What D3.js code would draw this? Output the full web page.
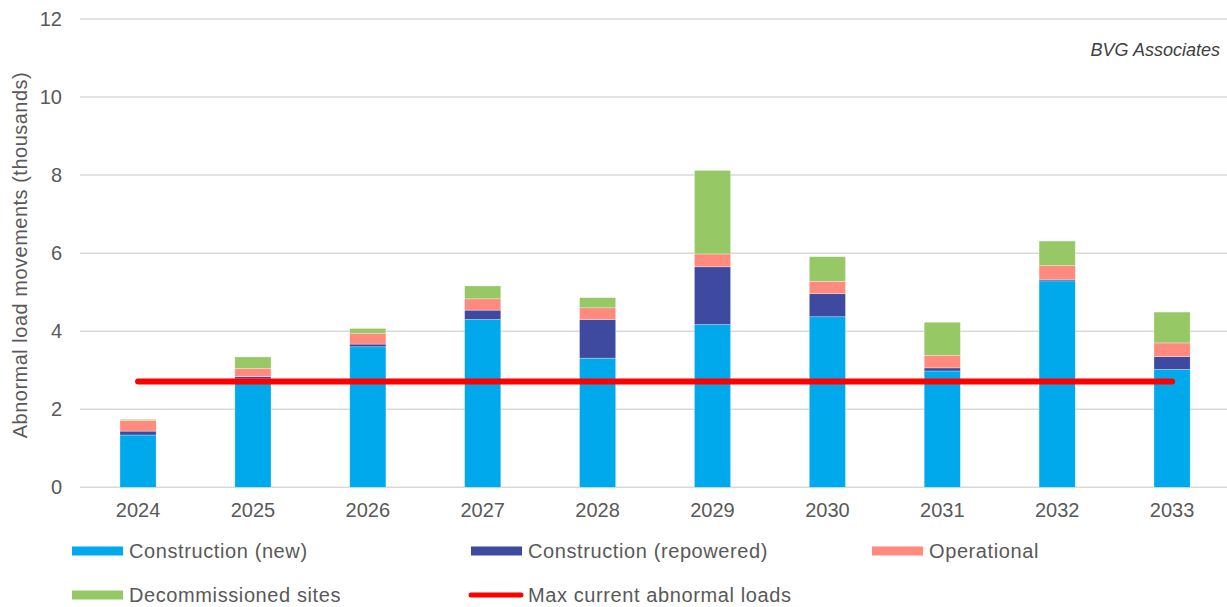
<!DOCTYPE html>
<html>
<head>
<meta charset="utf-8">
<script src="https://cdn.jsdelivr.net/npm/d3@7"></script>
<style>
  html, body { margin: 0; padding: 0; background: #fff; }
  svg { display: block; font-family: "Liberation Sans", Arial, sans-serif; }
</style>
</head>
<body>
<svg id="chart" width="1227" height="607"></svg>
<script>
// ---- data ----
const years = ["2024","2025","2026","2027","2028","2029","2030","2031","2032","2033"];
const constructionNew =        [1.34, 2.78, 3.60, 4.30, 3.31, 4.17, 4.37, 2.98, 5.29, 3.02];
const constructionRepowered =  [0.10, 0.06, 0.07, 0.24, 0.99, 1.48, 0.59, 0.08, 0.04, 0.33];
const operational =            [0.27, 0.21, 0.28, 0.29, 0.30, 0.33, 0.32, 0.32, 0.35, 0.35];
const decommissioned =         [0.03, 0.29, 0.12, 0.33, 0.26, 2.14, 0.63, 0.85, 0.63, 0.79];
const maxCurrent = [2.71, 2.71, 2.71, 2.71, 2.71, 2.71, 2.71, 2.71, 2.71, 2.71];
const yTicks = [0, 2, 4, 6, 8, 10, 12];
const seriesNames = ["Construction (new)", "Construction (repowered)", "Operational", "Decommissioned sites"];
const lineName = "Max current abnormal loads";

const colors = ["#00A9EC", "#3D4A9F", "#FF8A7D", "#97C866"];
const lineColor = "#FF0000";

const svg = d3.select("#chart");
const plotBottom = 487.3;

const x = d3.scaleBand().domain(years).range([80.6, 1229.5]).paddingInner(0.685).paddingOuter(0.3425);
const y = d3.scaleLinear().domain([0, 12]).range([plotBottom, 19]);

// gridlines
svg.append("g").selectAll("line").data(yTicks).join("line")
  .attr("x1", 80).attr("x2", 1227)
  .attr("y1", d => y(d)).attr("y2", d => y(d))
  .attr("stroke", "#d9d9d9").attr("stroke-width", 1.5);

// y axis labels
const yAxis = d3.axisLeft(y).tickValues(yTicks).tickSize(0).tickPadding(0);
const yg = svg.append("g").attr("transform", "translate(62,0)").call(yAxis);
yg.select(".domain").remove();
yg.selectAll("text").attr("fill", "#595959").style("font-size", "20px")
  .style("font-family", '"Liberation Sans", Arial, sans-serif');

// x axis labels
const xAxis = d3.axisBottom(x).tickSize(0).tickPadding(0);
const xg = svg.append("g").attr("transform", "translate(0,503)").call(xAxis);
xg.select(".domain").remove();
xg.selectAll("text").attr("fill", "#595959").style("font-size", "20px")
  .style("font-family", '"Liberation Sans", Arial, sans-serif');

// stacked data
const table = years.map((yr, i) => ({
  year: yr,
  s0: constructionNew[i], s1: constructionRepowered[i], s2: operational[i], s3: decommissioned[i]
}));
const stack = d3.stack().keys(["s0","s1","s2","s3"]);
const stacked = stack(table);

svg.append("g").selectAll("g").data(stacked).join("g")
  .attr("fill", (d, i) => colors[i])
  .selectAll("rect").data(d => d).join("rect")
  .attr("x", d => x(d.data.year))
  .attr("width", x.bandwidth())
  .attr("y", d => y(d[1]))
  .attr("height", d => y(d[0]) - y(d[1]))
  .attr("stroke", "#ffffff").attr("stroke-width", 0.6).attr("stroke-opacity", 0.5);

// red line
const line = d3.line().x((d, i) => x(years[i]) + x.bandwidth() / 2).y(d => y(d));
svg.append("path").datum(maxCurrent)
  .attr("d", line).attr("fill", "none")
  .attr("stroke", lineColor).attr("stroke-width", 6).attr("stroke-linecap", "round");

// y axis title
svg.append("text")
  .attr("transform", "translate(27,255) rotate(-90)")
  .attr("text-anchor", "middle")
  .attr("fill", "#595959").style("font-size", "20px").style("letter-spacing", "0.5px")
  .text("Abnormal load movements  (thousands)");

// watermark
svg.append("text")
  .attr("x", 1220).attr("y", 56).attr("text-anchor", "end")
  .attr("fill", "#404040").style("font-size", "18px").style("font-style", "italic")
  .text("BVG Associates");

// legend
const legendItems = [
  {name: seriesNames[0], type: "rect", color: colors[0], x: 72, y: 551},
  {name: seriesNames[1], type: "rect", color: colors[1], x: 471, y: 551},
  {name: seriesNames[2], type: "rect", color: colors[2], x: 872, y: 551},
  {name: seriesNames[3], type: "rect", color: colors[3], x: 72, y: 595},
  {name: lineName, type: "line", color: lineColor, x: 471, y: 595}
];
const lg = svg.append("g").selectAll("g").data(legendItems).join("g")
  .attr("transform", d => `translate(${d.x},${d.y})`);
lg.filter(d => d.type === "rect").append("rect")
  .attr("x", 0).attr("y", -4.5).attr("width", 51).attr("height", 9)
  .attr("fill", d => d.color);
lg.filter(d => d.type === "line").append("line")
  .attr("x1", 0).attr("x2", 50).attr("y1", 0).attr("y2", 0)
  .attr("stroke", d => d.color).attr("stroke-width", 5).attr("stroke-linecap", "round");
lg.append("text")
  .attr("x", 57).attr("y", 0).attr("dy", "0.35em")
  .attr("fill", "#595959").style("font-size", "20px").style("letter-spacing", "0.6px")
  .text(d => d.name);
</script>
</body>
</html>
